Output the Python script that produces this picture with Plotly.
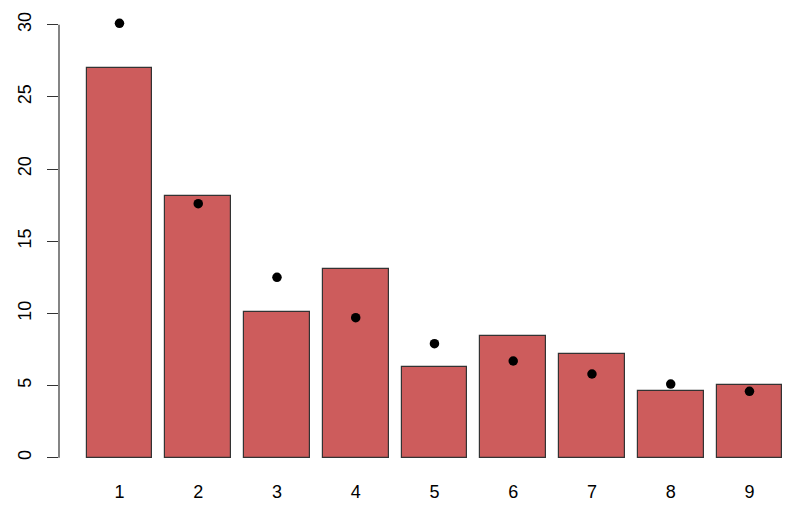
import plotly.graph_objects as go

digits = ["1", "2", "3", "4", "5", "6", "7", "8", "9"]
observed = [27.0, 18.11, 10.12, 13.08, 6.31, 8.45, 7.19, 4.64, 5.04]
benford = [30.1, 17.6, 12.5, 9.7, 7.9, 6.7, 5.8, 5.1, 4.6]
y_ticks = [0, 5, 10, 15, 20, 25, 30]

xpos = list(range(1, len(digits) + 1))

fig = go.Figure()
fig.add_trace(go.Bar(
    x=xpos, y=observed, width=1 / 1.2,
    marker=dict(color="#CD5C5C", line=dict(color="#333333", width=1.2)),
    showlegend=False, hoverinfo="skip",
))
fig.add_trace(go.Scatter(
    x=xpos, y=benford, mode="markers",
    marker=dict(color="black", size=9.5),
    showlegend=False, hoverinfo="skip",
))

fig.add_shape(type="line", xref="paper", yref="y", x0=0, x1=0,
              y0=y_ticks[0], y1=y_ticks[-1], line=dict(color="#333333", width=1.2))

fig.update_layout(
    width=791, height=511,
    margin=dict(l=51, r=0, t=2, b=40),
    paper_bgcolor="white", plot_bgcolor="white",
    font=dict(family="Liberation Sans, Arial, sans-serif", size=18, color="black"),
    bargap=0,
    xaxis=dict(
        range=[0.232, 9.629], showgrid=False, zeroline=False, showline=False,
        tickvals=xpos, ticktext=digits, ticks="", ticklabelstandoff=0,
        automargin=False,
    ),
    yaxis=dict(
        range=[-1.476, 31.02], showgrid=False, zeroline=False, showline=False,
        tickvals=y_ticks, ticktext=[str(v) for v in y_ticks],
        ticks="outside", ticklen=11, tickwidth=1.2, tickcolor="#333333",
        tickangle=-90, ticklabelstandoff=9, automargin=False,
    ),
)

fig.write_html("out.html")
